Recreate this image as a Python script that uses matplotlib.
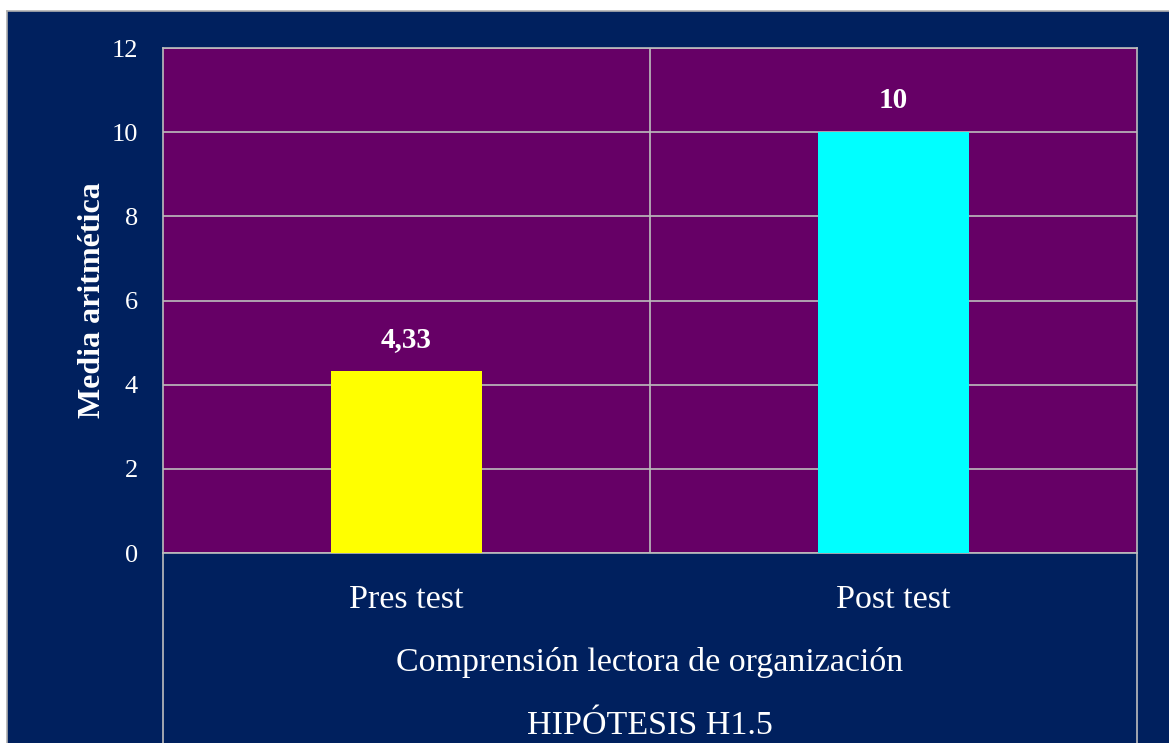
import matplotlib.pyplot as plt
from matplotlib.patches import Rectangle
from matplotlib.lines import Line2D

categories = ['Pres test', 'Post test']
values = [4.33, 10]
value_labels = ['4,33', '10']
bar_colors = ['#FFFF00', '#00FFFF']
yticks = [0, 2, 4, 6, 8, 10, 12]

navy = '#00205E'
purple = '#660066'
grid = '#BDBDBD'

plt.rcParams['font.family'] = ['Liberation Serif', 'DejaVu Serif']

W, H = 1169, 743
fig = plt.figure(figsize=(W / 100, H / 100), dpi=100, facecolor='white')

# navy background panel with light border (top/left)
fig.patches.append(Rectangle((7 / W, 0), 1 - 7 / W, 1 - 11 / H, transform=fig.transFigure,
                             facecolor=navy, edgecolor='none', zorder=-5))
fig.lines.append(Line2D([6.5 / W, 6.5 / W], [0, 1 - 10.5 / H], transform=fig.transFigure,
                        color='#B0B0B0', lw=1.2))
fig.lines.append(Line2D([6.5 / W, 1], [1 - 10.5 / H, 1 - 10.5 / H], transform=fig.transFigure,
                        color='#B0B0B0', lw=1.2))

left, right = 163 / W, 1137 / W
bottom, top = 1 - 553 / H, 1 - 48 / H
ax = fig.add_axes([left, bottom, right - left, top - bottom])
ax.set_zorder(5)
ax.set_facecolor(purple)

x = range(len(categories))
ax.bar(x, values, width=0.31, color=bar_colors, zorder=3)
for xi, v, lab in zip(x, values, value_labels):
    ax.text(xi, v + 0.42, lab, ha='center', va='bottom', color='white',
            fontsize=21, fontweight='bold', zorder=4)

ax.set_xlim(-0.5, 1.5)
ax.set_ylim(0, 12)
ax.set_yticks(yticks)
ax.set_yticklabels([str(t) for t in yticks], color='white', fontsize=19)
ax.tick_params(axis='y', length=0, pad=18)
ax.set_xticks([])
ax.yaxis.grid(True, color=grid, lw=1.2, zorder=1)
ax.set_axisbelow(True)
ax.axvline(0.5, color=grid, lw=1.2, zorder=1)
for s in ax.spines.values():
    s.set_color(grid)
    s.set_linewidth(1.2)

ax.set_ylabel('Media aritmética', color='white', fontsize=23, fontweight='bold', labelpad=3)

# multi-level category labels below the plot
for xi, c in zip(x, categories):
    ax.text(xi, -1.1, c, ha='center', va='center', color='white', fontsize=24.5,
            clip_on=False)
fig.text((left + right) / 2, 1 - 663 / H, 'Comprensión lectora de organización',
         ha='center', va='center', color='white', fontsize=24.5)
fig.text((left + right) / 2, 1 - 726 / H, 'HIPÓTESIS H1.5',
         ha='center', va='center', color='white', fontsize=24.5)

# level separator lines extending below the plot area
for xx in (left, right):
    fig.lines.append(Line2D([xx, xx], [0, bottom], transform=fig.transFigure,
                            color=grid, lw=1.2))

fig.savefig('out.png', dpi=100, facecolor=fig.get_facecolor())
